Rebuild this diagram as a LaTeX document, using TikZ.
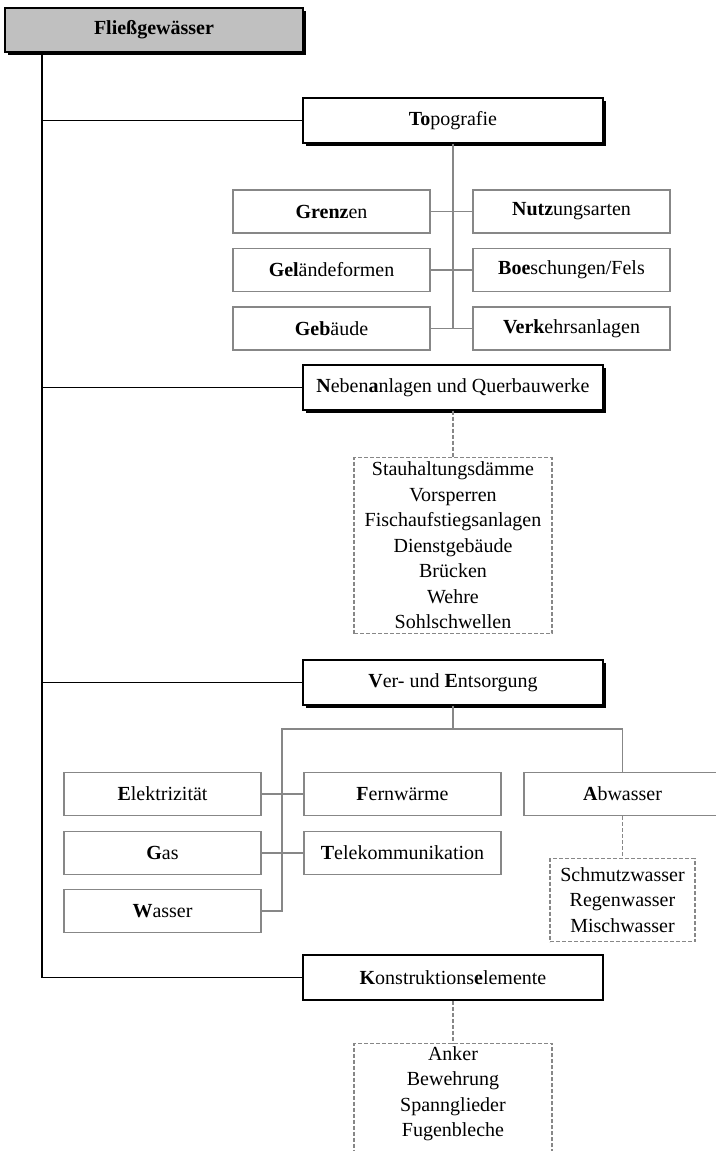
\documentclass[tikz,border=0pt]{standalone}
\usepackage{fontspec}
\setmainfont{Liberation Serif}
\usepackage{xcolor}
\usepackage{tikz}
\usetikzlibrary{shadows}

\definecolor{rootgray}{RGB}{192,192,192}
\definecolor{linegray}{RGB}{135,135,135}

\begin{document}
\begin{tikzpicture}[
    x=1pt, y=-1pt,
    rootblock/.style={rectangle, draw, line width=1.4pt, fill=rootgray, minimum width=298pt, minimum height=44pt, font=\fontsize{20}{25.5}\selectfont\bfseries, drop shadow={shadow xshift=2.5pt, shadow yshift=-2.5pt, fill=black, opacity=1}},
    mainblock/.style={rectangle, draw, line width=1.4pt, fill=white, minimum width=300pt, minimum height=45pt, font=\fontsize{20}{25.5}\selectfont, drop shadow={shadow xshift=2.5pt, shadow yshift=-2.5pt, fill=black, opacity=1}},
    plainmainblock/.style={rectangle, draw, line width=1.8pt, fill=white, minimum width=300pt, minimum height=45pt, font=\fontsize{20}{25.5}\selectfont},
    subblock/.style={rectangle, draw=linegray, line width=1.2pt, minimum width=197pt, minimum height=43pt, font=\fontsize{20}{25.5}\selectfont},
    listblock/.style={rectangle, draw=linegray, line width=1.1pt, dash pattern=on 4pt off 2pt, align=center, inner sep=3pt, font=\fontsize{20}{25.5}\selectfont},
    mainline/.style={line width=1.4pt},
    subline/.style={draw=linegray, line width=1.2pt},
    listline/.style={draw=linegray, line width=1.1pt, dash pattern=on 4pt off 2pt}
]
\useasboundingbox (0,0) rectangle (715,1151);

% root and the four main groups
\node[rootblock] (root) at (154,30) {Fließgewässer};
\node[mainblock] (topo) at (453,120.5) {\textbf{To}pografie};
\node[mainblock] (neben) at (453,387.5) {\textbf{N}eben\textbf{a}nlagen und Querbauwerke};
\node[mainblock] (ver) at (453,682.5) {\textbf{V}er- und \textbf{E}ntsorgung};
\node[plainmainblock] (kon) at (453,977.5) {\textbf{K}onstruktions\textbf{e}lemente};

% trunk on the left
\coordinate (trunk) at (42,0);
\draw[mainline] (trunk |- root.south) -- (trunk |- kon.west);
\draw[mainline] (trunk |- topo.west) -- (topo.west);
\draw[mainline] (trunk |- neben.west) -- (neben.west);
\draw[mainline] (trunk |- ver.west) -- (ver.west);
\draw[mainline] (trunk |- kon.west) -- (kon.west);

% Topografie
\node[subblock] (grenzen) at (331.5,211.5) {\textbf{Grenz}en};
\node[subblock] (gelaende) at (331.5,270) {\textbf{Gel}ändeformen};
\node[subblock] (gebaeude) at (331.5,328.5) {\textbf{Geb}äude};
\node[subblock] (nutzung) at (571.5,211.5) {\textbf{Nutz}ungsarten};
\node[subblock] (boesch) at (571.5,270) {\textbf{Boe}schungen/Fels};
\node[subblock] (verkehr) at (571.5,328.5) {\textbf{Verk}ehrsanlagen};

\draw[subline] (topo.south) -- (topo.south |- gebaeude.east);
\draw[subline] (grenzen.east) -- (nutzung.west);
\draw[subline] (gelaende.east) -- (boesch.west);
\draw[subline] (gebaeude.east) -- (verkehr.west);

% Nebenanlagen und Querbauwerke
\node[listblock, minimum width=198pt, minimum height=176pt, anchor=north] (nebenlist) at (453,457) {Stauhaltungsdämme\\Vorsperren\\Fischaufstiegsanlagen\\Dienstgebäude\\Brücken\\Wehre\\Sohlschwellen};
\draw[listline] (neben.south) -- (nebenlist.north);

% Ver- und Entsorgung
\node[subblock] (elektr) at (162.5,794) {\textbf{E}lektrizität};
\node[subblock] (gas) at (162.5,853) {\textbf{G}as};
\node[subblock] (wasser) at (162.5,911) {\textbf{W}asser};
\node[subblock] (fernw) at (402.5,794) {\textbf{F}ernwärme};
\node[subblock] (telek) at (402.5,853) {\textbf{T}elekommunikation};
\node[subblock] (abwasser) at (622.5,794) {\textbf{A}bwasser};

\coordinate (vbus) at (282,729);
\draw[subline] (ver.south) -- (ver.south |- vbus);
\draw[subline] (wasser.east) -| (vbus) -| (abwasser.north);
\draw[subline] (elektr.east) -- (fernw.west);
\draw[subline] (gas.east) -- (telek.west);

\node[listblock, minimum width=145pt, minimum height=83pt, anchor=north] (abwlist) at (622.5,858) {Schmutzwasser\\Regenwasser\\Mischwasser};
\draw[listline] (abwasser.south) -- (abwlist.north);

% Konstruktionselemente
\node[listblock, minimum width=198pt, anchor=north] (konlist) at (453,1043) {Anker\\Bewehrung\\Spannglieder\\Fugenbleche\\\mbox{}};
\draw[listline] (kon.south) -- (konlist.north);

\end{tikzpicture}
\end{document}
